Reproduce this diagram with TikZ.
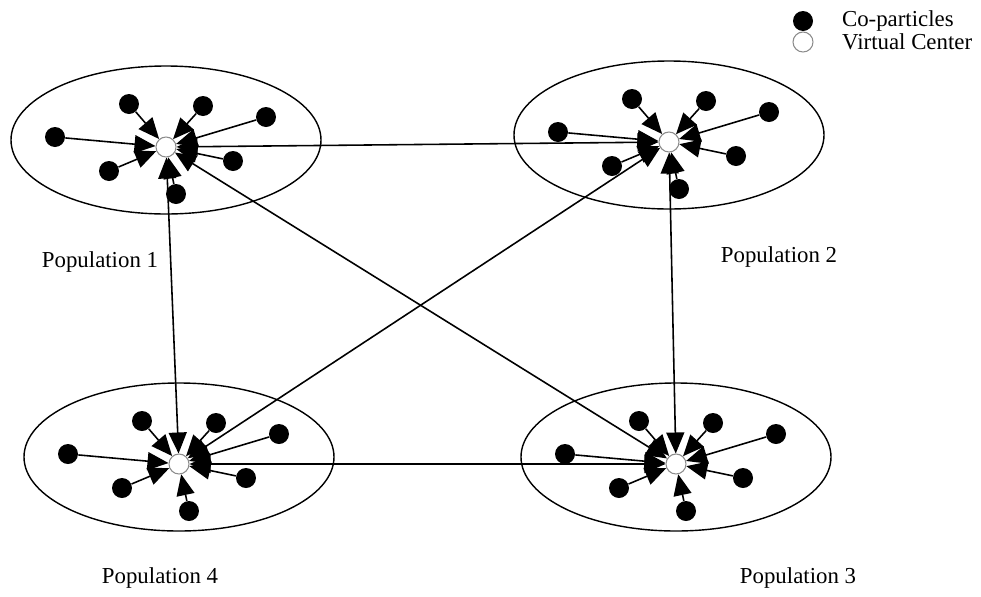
\documentclass[tikz,border=0pt]{standalone}
\usepackage{fontspec}
\setmainfont{Liberation Serif}
\usetikzlibrary{arrows.meta, positioning}
\tikzset{
  copart/.style={circle, fill=black, inner sep=0pt, minimum size=0.4cm},
  vcenter/.style={circle, draw=black!45, fill=white, line width=0.6pt, inner sep=0pt, minimum size=0.4cm},
  pull/.style={-{Triangle[length=0.42cm,width=0.36cm]}, line width=0.9pt},
  link/.style={{Triangle[length=0.42cm,width=0.36cm]}-{Triangle[length=0.42cm,width=0.36cm]}, line width=0.9pt},
  popname/.style={font=\fontsize{13}{15}\selectfont},
}
\begin{document}
\begin{tikzpicture}[x=0.02cm, y=-0.02cm]
  \useasboundingbox (0,0) rectangle (981,596);
  % four populations, each with seven co-particles around a virtual centre
  \foreach \k/\cx/\cy in {1/166/147, 2/669/142, 3/676/464, 4/179/464} {
    \draw[line width=0.8pt] (\cx,\cy-7) ellipse [x radius=155, y radius=74];
    \node[vcenter] (vc\k) at (\cx,\cy) {};
    \foreach \i/\dx/\dy in {a/-37/-43, b/37/-41, c/100/-30, d/-111/-10, e/67/14, f/-57/24, g/10/47} {
      \node[copart] (p\k\i) at (\cx+\dx,\cy+\dy) {};
      \draw[pull] (p\k\i) -- (vc\k);
    }
  }
  % links between the virtual centres
  \draw[link] (vc1) -- (vc2);
  \draw[link] (vc1) -- (vc4);
  \draw[link] (vc1) -- (vc3);
  \draw[link] (vc2) -- (vc4);
  \draw[link] (vc2) -- (vc3);
  \draw[link] (vc4) -- (vc3);
  % labels
  \node[popname] (lab1) at (100,262) {Population 1};
  \node[popname] (lab2) at (779,257) {Population 2};
  \node[popname] (lab3) at (798,578) {Population 3};
  \node[popname] (lab4) at (160,578) {Population 4};
  % legend
  \node[copart] (keyco) at (803,21) {};
  \node[popname, right=0.45cm of keyco] (keycotxt) {Co-particles};
  \node[vcenter] (keyvc) at (803,42) {};
  \node[popname, right=0.45cm of keyvc] (keyvctxt) {Virtual Center};
\end{tikzpicture}
\end{document}
